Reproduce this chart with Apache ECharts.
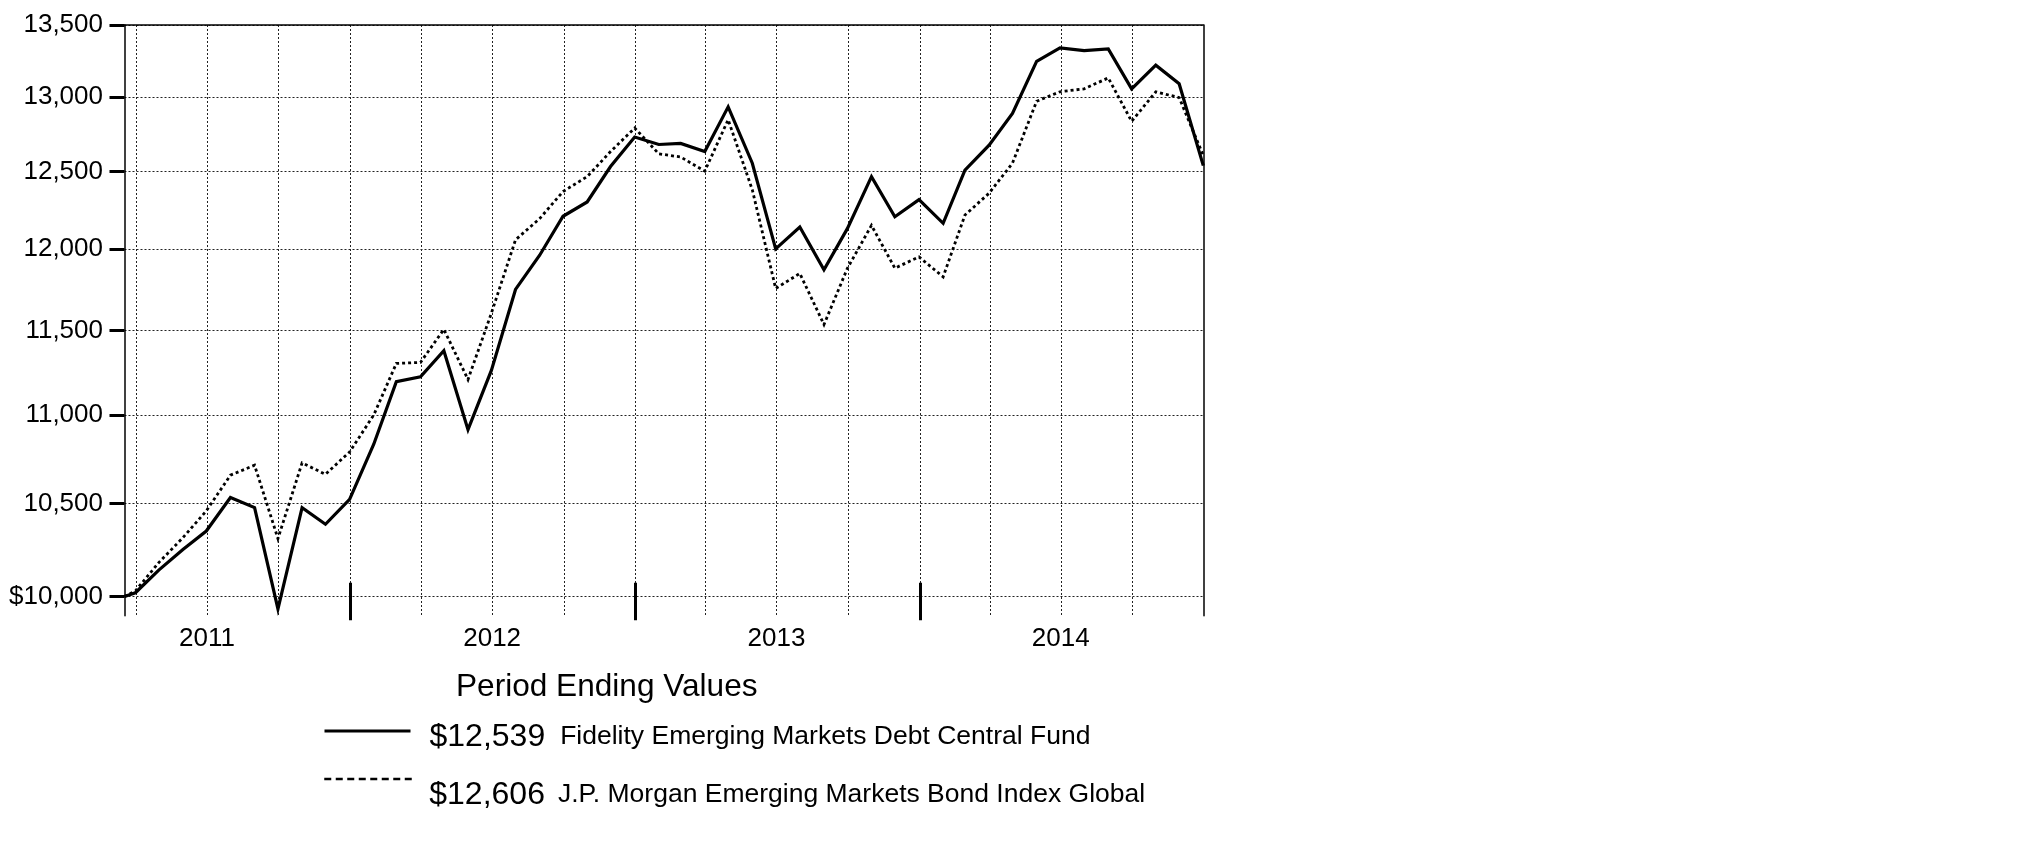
<!DOCTYPE html>
<html>
<head>
<meta charset="utf-8">
<script src="https://cdn.jsdelivr.net/npm/echarts@6/dist/echarts.min.js"></script>
<style>
html,body{margin:0;padding:0;background:#fff;}
#chart{width:2025px;height:851px;}
</style>
</head>
<body>
<div id="chart"></div>
<script>
// ---- data ----
const dates = [
  '2011-03-17','2011-03-31','2011-04-30','2011-05-31','2011-06-30','2011-07-31','2011-08-31','2011-09-30','2011-10-31','2011-11-30','2011-12-31',
  '2012-01-31','2012-02-29','2012-03-31','2012-04-30','2012-05-31','2012-06-30','2012-07-31','2012-08-31','2012-09-30','2012-10-31','2012-11-30','2012-12-31',
  '2013-01-31','2013-02-28','2013-03-31','2013-04-30','2013-05-31','2013-06-30','2013-07-31','2013-08-31','2013-09-30','2013-10-31','2013-11-30','2013-12-31',
  '2014-01-31','2014-02-28','2014-03-31','2014-04-30','2014-05-31','2014-06-30','2014-07-31','2014-08-31','2014-09-30','2014-10-31','2014-11-30','2014-12-31'
];
const fundName = 'Fidelity Emerging Markets Debt Central Fund';
const indexName = 'J.P. Morgan Emerging Markets Bond Index Global';
const fundValues = [
  10000, 10020, 10140, 10250, 10350, 10534, 10478, 9935, 10478, 10387, 10524,
  10833, 11194, 11223, 11378, 10916, 11261, 11750, 11963, 12210, 12302, 12533, 12729,
  12679, 12686, 12632, 12932, 12555, 12003, 12141, 11872, 12131, 12467, 12207, 12317,
  12165, 12510, 12675, 12887, 13245, 13339, 13320, 13331, 13055, 13218, 13090, 12539
];
const indexValues = [
  10000, 10030, 10180, 10314, 10460, 10658, 10714, 10309, 10727, 10663, 10789,
  11000, 11302, 11308, 11506, 11207, 11604, 12060, 12195, 12370, 12467, 12632, 12789,
  12617, 12596, 12503, 12845, 12381, 11756, 11849, 11535, 11880, 12152, 11882, 11952,
  11828, 12218, 12359, 12555, 12970, 13035, 13055, 13130, 12834, 13035, 12995, 12606
];
const yTicks = [10000, 10500, 11000, 11500, 12000, 12500, 13000, 13500];
const quarterTicks = [
  '2011-04-01','2011-07-01','2011-10-01','2012-01-01','2012-04-01','2012-07-01','2012-10-01',
  '2013-01-01','2013-04-01','2013-07-01','2013-10-01','2014-01-01','2014-04-01','2014-07-01','2014-10-01'
];
const yearBoundaries = ['2012-01-01','2013-01-01','2014-01-01'];
const yearLabelDates = ['2011-07-01','2012-07-01','2013-07-01','2014-07-01'];
const titleText = 'Period Ending Values';

// ---- chart ----
const FONT = "'Liberation Sans', Arial, sans-serif";
const ts = d => new Date(d + 'T00:00:00Z').getTime();
const fmtMoney = v => '$' + Math.round(v).toLocaleString('en-US');
const fundEnd = fundValues[fundValues.length - 1];
const indexEnd = indexValues[indexValues.length - 1];
const zip = (a, b) => a.map((d, i) => [ts(d), b[i]]);

const chart = echarts.init(document.getElementById('chart'), null, {renderer: 'canvas'});
const xMin = ts(dates[0]), xMax = ts(dates[dates.length - 1]);
const dotted = {type: [2, 2], color: '#222', width: 1};
const hiddenSymbol = {color: 'rgba(0,0,0,0)', borderWidth: 0, borderColor: 'rgba(0,0,0,0)'};

const option = {
  backgroundColor: '#fff',
  animation: false,
  title: {
    text: titleText, left: 451, top: 666,
    textStyle: {fontFamily: FONT, fontSize: 31.6, fontWeight: 'normal', color: '#000'}
  },
  legend: [
    {
      data: [fundName], left: 318, top: 704, orient: 'vertical', selectedMode: false,
      itemWidth: 86, itemHeight: 14, lineStyle: {width: 3, color: '#000', type: 'solid'},
      itemStyle: hiddenSymbol,
      formatter: name => '{v|' + fmtMoney(fundEnd) + '}{n|' + name + '}',
      textStyle: {
        fontFamily: FONT, color: '#000',
        rich: {
          v: {fontFamily: FONT, fontSize: 32, lineHeight: 40, padding: [12, 15, 0, 14], color: '#000'},
          n: {fontFamily: FONT, fontSize: 26.5, lineHeight: 40, padding: [12, 0, 0, 0], color: '#000'}
        }
      }
    },
    {
      data: [indexName], left: 318, top: 742, orient: 'vertical', selectedMode: false,
      itemWidth: 88, itemHeight: 14, lineStyle: {width: 2.5, color: '#000', type: [7, 4.5]},
      itemStyle: hiddenSymbol,
      formatter: name => '{v|' + fmtMoney(indexEnd) + '}{n|' + name + '}',
      textStyle: {
        fontFamily: FONT, color: '#000',
        rich: {
          v: {fontFamily: FONT, fontSize: 32, lineHeight: 40, padding: [32, 13, 0, 12], color: '#000'},
          n: {fontFamily: FONT, fontSize: 26.5, lineHeight: 40, padding: [32, 0, 0, 0], color: '#000'}
        }
      }
    }
  ],
  grid: {left: 124.5, right: 821.7, top: 25, bottom: 235.3, containLabel: false},
  xAxis: [
    {
      type: 'value', min: xMin, max: xMax, position: 'bottom',
      axisLine: {show: false},
      axisTick: {show: false, customValues: quarterTicks.map(ts)},
      splitLine: {show: true, lineStyle: dotted},
      axisLabel: {
        customValues: yearLabelDates.map(ts), margin: 10,
        fontFamily: FONT, fontSize: 26, color: '#000',
        formatter: v => String(new Date(v).getUTCFullYear())
      }
    },
    {
      type: 'value', min: xMin, max: xMax, position: 'bottom', offset: 4.5,
      axisLine: {show: false},
      axisTick: {show: true, inside: true, length: 37.5, customValues: yearBoundaries.map(ts),
                 lineStyle: {color: '#000', width: 3}},
      splitLine: {show: false},
      axisLabel: {show: false}
    },
    {
      type: 'value', min: xMin, max: xMax, position: 'top',
      axisLine: {show: true, lineStyle: {color: '#000', width: 1.5}},
      axisTick: {show: false}, splitLine: {show: false}, axisLabel: {show: false}
    }
  ],
  yAxis: [
    {
      type: 'log', logBase: 10, min: 9900, max: 13500, position: 'left',
      axisLine: {show: true, lineStyle: {color: '#000', width: 1.5}},
      axisTick: {show: true, length: 15, customValues: yTicks, lineStyle: {color: '#000', width: 3}},
      splitLine: {show: true, lineStyle: dotted},
      axisLabel: {
        customValues: yTicks, margin: 21.5,
        fontFamily: FONT, fontSize: 26, color: '#000',
        formatter: v => { const r = Math.round(v); return r === 10000 ? '$10,000' : r.toLocaleString('en-US'); }
      }
    },
    {
      type: 'log', logBase: 10, min: 9900, max: 13500, position: 'right',
      axisLine: {show: true, lineStyle: {color: '#000', width: 1.5}},
      axisTick: {show: false}, splitLine: {show: false}, axisLabel: {show: false}
    }
  ],
  series: [
    {
      name: fundName, type: 'line', xAxisIndex: 0, yAxisIndex: 0,
      data: zip(dates, fundValues), symbol: 'none', z: 4,
      lineStyle: {color: '#000', width: 3.2, type: 'solid', join: 'miter'},
      itemStyle: {color: '#000'}
    },
    {
      name: indexName, type: 'line', xAxisIndex: 0, yAxisIndex: 0,
      data: zip(dates, indexValues), symbol: 'none', z: 3,
      lineStyle: {color: '#000', width: 2.8, type: [3, 3], join: 'miter'},
      itemStyle: {color: '#000'}
    }
  ]
};
chart.setOption(option);
</script>
</body>
</html>
